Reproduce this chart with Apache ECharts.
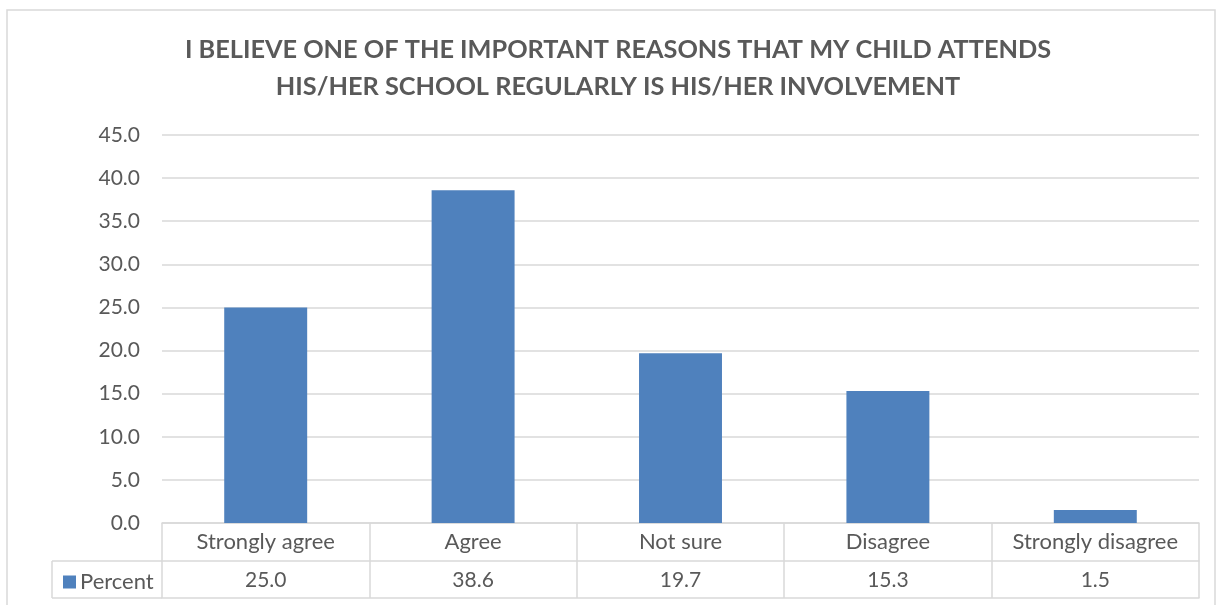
<!DOCTYPE html>
<html><head><meta charset="utf-8">
<script src="https://cdn.jsdelivr.net/npm/echarts@6/dist/echarts.min.js"></script>
<style>html,body{margin:0;padding:0;background:#fff}#c{width:1218px;height:605px}</style>
</head><body><div id="c"></div>
<script>
const categories = ['Strongly agree', 'Agree', 'Not sure', 'Disagree', 'Strongly disagree'];
const percent = [25.0, 38.6, 19.7, 15.3, 1.5];
const seriesName = 'Percent';
const yTicks = { min: 0, max: 45, interval: 5 };
const titleText = 'I BELIEVE ONE OF THE IMPORTANT REASONS THAT MY CHILD ATTENDS\nHIS/HER SCHOOL REGULARLY IS HIS/HER INVOLVEMENT';

const FONT = 'Lato';
const TXT = '#595959';
const LINE = '#d9d9d9';
const chart = echarts.init(document.getElementById('c'), null, { renderer: 'canvas' });
chart.setOption({
  animation: false,
  backgroundColor: '#fff',
  textStyle: { fontFamily: FONT },
  title: {
    text: titleText, left: 613, top: 26, textAlign: 'center',
    textStyle: { fontFamily: FONT, fontWeight: 'bold', fontSize: 25.3, color: TXT, lineHeight: 37 }
  },
  legend: {
    left: 58, top: 566, itemWidth: 13, itemHeight: 13, itemGap: 6, icon: 'rect',
    data: [seriesName],
    textStyle: { fontFamily: FONT, fontSize: 22, color: TXT, padding: [0, 0, 0, -1] }
  },
  grid: { left: 162, right: 19, top: 135, bottom: 82, containLabel: false },
  xAxis: [
    {
      type: 'category', data: categories, position: 'bottom',
      axisLine: { show: true, lineStyle: { color: LINE, width: 1.5 } },
      axisTick: { show: true, length: 75, lineStyle: { color: LINE, width: 1.5 } },
      axisLabel: { margin: 8, fontFamily: FONT, fontSize: 22, color: TXT, interval: 0 }
    },
    {
      type: 'category', data: categories, position: 'bottom', offset: 38,
      axisLine: { show: true, lineStyle: { color: LINE, width: 1.5 } },
      axisTick: { show: false },
      axisLabel: { margin: 9, fontFamily: FONT, fontSize: 21, color: TXT, interval: 0,
        formatter: (v, i) => percent[i].toFixed(1) }
    },
    {
      type: 'category', data: categories, position: 'bottom', offset: 75,
      axisLine: { show: true, lineStyle: { color: LINE, width: 1.5 } },
      axisTick: { show: false }, axisLabel: { show: false }
    }
  ],
  yAxis: {
    type: 'value', min: yTicks.min, max: yTicks.max, interval: yTicks.interval,
    axisLine: { show: false }, axisTick: { show: false },
    splitLine: { lineStyle: { color: LINE, width: 1.5 } },
    axisLabel: { margin: 22, fontFamily: FONT, fontSize: 21, color: TXT, formatter: v => v.toFixed(1) }
  },
  series: [{
    name: seriesName, type: 'bar', data: percent, barWidth: '40%',
    itemStyle: { color: '#4f81bd' }
  }],
  graphic: [
    { type: 'rect', shape: { x: 7, y: 10, width: 1208, height: 620 }, style: { fill: 'none', stroke: LINE, lineWidth: 1.5 }, silent: true },
    { type: 'line', shape: { x1: 52, y1: 561, x2: 162, y2: 561 }, style: { stroke: LINE, lineWidth: 1.5 }, silent: true },
    { type: 'line', shape: { x1: 52, y1: 598, x2: 162, y2: 598 }, style: { stroke: LINE, lineWidth: 1.5 }, silent: true },
    { type: 'line', shape: { x1: 52, y1: 561, x2: 52, y2: 598 }, style: { stroke: LINE, lineWidth: 1.5 }, silent: true }
  ]
});
</script></body></html>
